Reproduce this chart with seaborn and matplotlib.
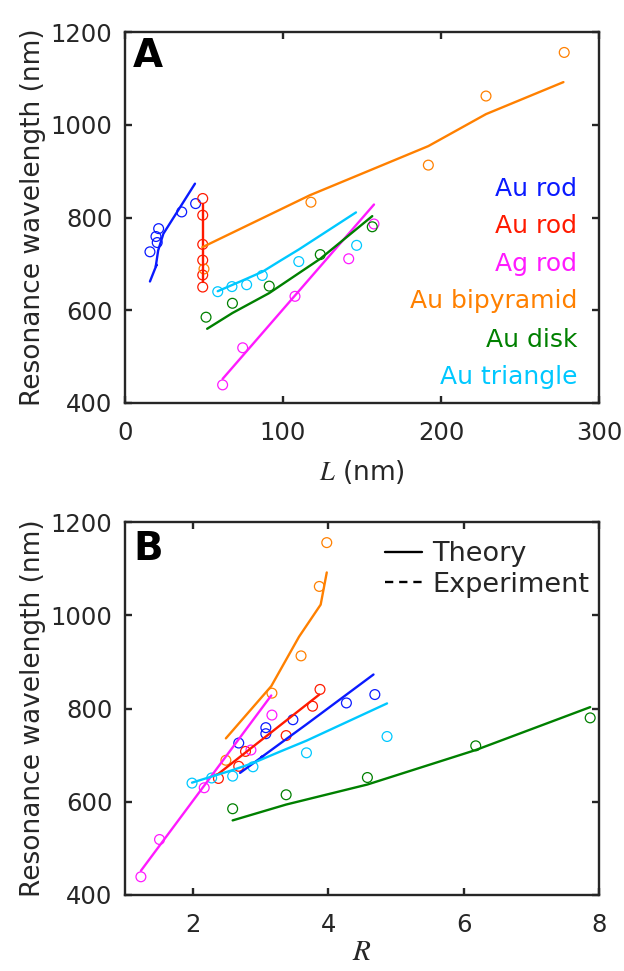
import matplotlib
matplotlib.use("Agg")
import matplotlib.pyplot as plt
import numpy as np
import pandas as pd
import seaborn as sns
from matplotlib.lines import Line2D

# Resonance wavelength vs length L (panel A) and aspect ratio R (panel B)

names = ["Au rod", "Au rod", "Ag rod", "Au bipyramid", "Au disk", "Au triangle"]
colors = ["#0a1aff", "#ff1a00", "#ff1aff", "#ff8000", "#008000", "#00c8ff"]

# experiment (circles)
exp_wl = [
    [726, 759, 776, 746, 812, 830],
    [841, 805, 742, 708, 676, 650],
    [439, 519, 630, 711, 786],
    [689, 833, 913, 1062, 1156],
    [585, 615, 652, 720, 780],
    [640, 651, 655, 675, 705, 740],
]
exp_L = [
    [15.8, 19.6, 21.3, 20.4, 35.9, 44.7],
    [49.2, 49.2, 49.2, 49.2, 49.2, 49.2],
    [61.8, 74.5, 107.6, 141.6, 157.6],
    [50, 117.7, 192, 228.5, 278],
    [51.3, 68, 91.3, 123.6, 156.5],
    [58.7, 67.7, 77, 86.9, 110, 146.6],
]
exp_R = [
    [2.68, 3.08, 3.48, 3.08, 4.27, 4.69],
    [3.88, 3.77, 3.38, 2.78, 2.68, 2.38],
    [1.235, 1.51, 2.17, 2.86, 3.17],
    [2.49, 3.17, 3.6, 3.87, 3.98],
    [2.59, 3.38, 4.58, 6.18, 7.87],
    [1.99, 2.28, 2.59, 2.89, 3.68, 4.87],
]

# theory (lines)
th_wl = [
    [662, 698, 695, 729, 765, 873],
    [660, 830],
    [452, 828],
    [736, 848, 954, 1023, 1092],
    [560, 594, 637, 711, 803],
    [641, 668, 683, 707, 731, 811],
]
th_L = [
    [15.8, 20.0, 19.5, 21.0, 24.3, 44.3],
    [49.2, 49.2],
    [61.8, 157.6],
    [49, 117, 192, 228.5, 277.5],
    [52, 68, 91.3, 123.6, 156.5],
    [58.7, 77, 87, 98.4, 110, 146.2],
]
th_R = [
    [2.70, 3.04, 3.01, 3.33, 3.67, 4.67],
    [2.38, 3.87],
    [1.235, 3.16],
    [2.49, 3.16, 3.57, 3.89, 3.98],
    [2.59, 3.38, 4.58, 6.18, 7.87],
    [1.99, 2.59, 2.89, 3.28, 3.68, 4.87],
]

yticks = [400, 600, 800, 1000, 1200]
xticks_A = [0, 100, 200, 300]
xticks_B = [2, 4, 6, 8]

sns.set_theme(style="white")
plt.rcParams.update({
    "font.family": ["DejaVu Sans"],
    "mathtext.fontset": "stix",
    "axes.edgecolor": "#262626",
    "axes.linewidth": 1.7,
    "xtick.direction": "in",
    "ytick.direction": "in",
    "xtick.top": True,
    "ytick.right": True,
    "xtick.bottom": True,
    "ytick.left": True,
    "xtick.major.size": 5,
    "ytick.major.size": 5,
    "xtick.major.width": 1.7,
    "ytick.major.width": 1.7,
    "xtick.color": "#262626",
    "ytick.color": "#262626",
    "text.color": "#262626",
    "axes.labelcolor": "#262626",
})

fig = plt.figure(figsize=(6.24, 9.71), dpi=100)
axA = fig.add_axes([0.2003, 0.585, 0.7596, 0.382])
axB = fig.add_axes([0.2003, 0.0783, 0.7596, 0.384])


def draw_panel(ax, xs_exp, xs_th):
    # circles first, theory lines on top
    for i in range(len(names)):
        d = pd.DataFrame({"x": xs_exp[i], "wl": exp_wl[i]})
        sns.scatterplot(data=d, x="x", y="wl", ax=ax, marker="o", s=50,
                        facecolors="none", edgecolor=colors[i], linewidth=0.9,
                        zorder=3)
    for i in range(len(names)):
        d = pd.DataFrame({"x": xs_th[i], "wl": th_wl[i]})
        sns.lineplot(data=d, x="x", y="wl", ax=ax, sort=False, estimator=None,
                     color=colors[i], linewidth=1.7, zorder=4)
    ax.set_ylim(400, 1200)
    ax.set_yticks(yticks)
    ax.tick_params(axis="both", labelsize=17.5, pad=9)
    ax.tick_params(axis="x", pad=13)
    ax.set_ylabel("Resonance wavelength (nm)", fontsize=19, labelpad=3)
    for s in ax.spines.values():
        s.set_visible(True)


draw_panel(axA, exp_L, th_L)
axA.set_xlim(0, 300)
axA.set_xticks(xticks_A)
axA.set_xlabel("$L$ (nm)", fontsize=19, labelpad=9)
axA.text(0.017, 0.905, "A", transform=axA.transAxes, fontsize=28,
         fontweight="bold", color="black", va="baseline")

# coloured name list in panel A
label_y = [0.559, 0.457, 0.357, 0.255, 0.152, 0.051]
for name, c, yy in zip(names, colors, label_y):
    axA.text(0.954, yy, name, color=c, fontsize=18, ha="right", va="baseline",
             transform=axA.transAxes)

draw_panel(axB, exp_R, th_R)
axB.set_xlim(1, 8)
axB.set_xticks(xticks_B)
axB.set_xlabel("$R$", fontsize=21, labelpad=1)
axB.text(0.017, 0.898, "B", transform=axB.transAxes, fontsize=28,
         fontweight="bold", color="black", va="baseline")

handles = [Line2D([], [], color="black", lw=1.7),
           Line2D([], [], color="black", lw=1.7, ls=(0, (3.5, 2.5)))]
axB.legend(handles, ["Theory", "Experiment"], loc="upper left",
           bbox_to_anchor=(0.549, 0.948), frameon=False, fontsize=19.5,
           handlelength=1.37, handletextpad=0.37, labelspacing=0.15,
           borderpad=0, borderaxespad=0)

fig.savefig("out.png", dpi=100)
